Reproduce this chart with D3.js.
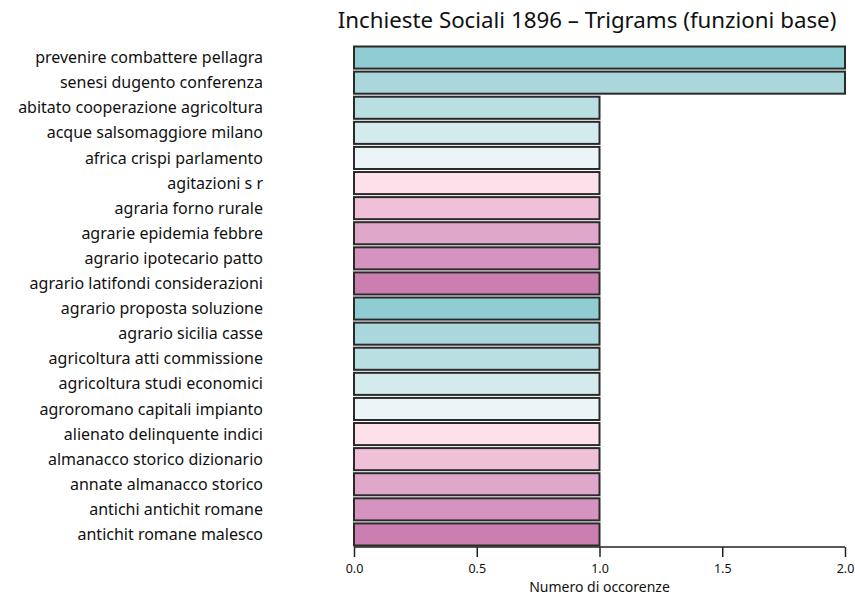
<!DOCTYPE html>
<html>
<head>
<meta charset="utf-8">
<script src="https://cdn.jsdelivr.net/npm/d3@7"></script>
<style>
  body { margin: 0; background: #fff; }
  text { font-family: "Noto Sans", "Open Sans", sans-serif; fill: #111; }
</style>
</head>
<body>
<svg id="chart" width="855" height="597"></svg>
<script>
// trigrams and how many times each one occurs
const trigrams = [
    "prevenire combattere pellagra",
    "senesi dugento conferenza",
    "abitato cooperazione agricoltura",
    "acque salsomaggiore milano",
    "africa crispi parlamento",
    "agitazioni s r",
    "agraria forno rurale",
    "agrarie epidemia febbre",
    "agrario ipotecario patto",
    "agrario latifondi considerazioni",
    "agrario proposta soluzione",
    "agrario sicilia casse",
    "agricoltura atti commissione",
    "agricoltura studi economici",
    "agroromano capitali impianto",
    "alienato delinquente indici",
    "almanacco storico dizionario",
    "annate almanacco storico",
    "antichi antichit romane",
    "antichit romane malesco"
];
const counts = [2, 2, 1, 1, 1, 1, 1, 1, 1, 1, 1, 1, 1, 1, 1, 1, 1, 1, 1, 1];
const palette = ["#90cdd2", "#a9d7dc", "#badfe3", "#d4ebee", "#ebf4f6",
                 "#fde0ea", "#efc0d7", "#dfa7c9", "#d593c0", "#cb7fb0"];
const xTicks = [0, 0.5, 1, 1.5, 2];

let svg = d3.select("#chart");
let margin = {left: 354, top: 45, right: 10, bottom: 50};
let width = 845 - margin.left;
let height = 547 - margin.top;

let x = d3.scaleLinear().domain([0, 2]).range([0, width]);
let y = d3.scaleBand().domain(trigrams).range([0, height])
    .paddingInner(0.12).paddingOuter(0.06);

let g = svg.append("g").attr("transform", `translate(${margin.left}, ${margin.top})`);

// title
svg.append("text")
    .attr("x", 587)
    .attr("y", 28)
    .attr("text-anchor", "middle")
    .style("font-size", "22.3px")
    .text("Inchieste Sociali 1896 \u2013 Trigrams (funzioni base)");

// bars
g.selectAll(".bar")
    .data(trigrams)
    .enter()
    .append("rect")
    .attr("class", "bar")
    .attr("x", x(0))
    .attr("y", (d) => y(d))
    .attr("width", (d, i) => x(counts[i]) - x(0))
    .attr("height", y.bandwidth())
    .attr("fill", (d, i) => palette[i % palette.length])
    .attr("stroke", "#2a2a2a")
    .attr("stroke-width", 2);

// row labels
g.selectAll(".label")
    .data(trigrams)
    .enter()
    .append("text")
    .attr("class", "label")
    .attr("x", -91)
    .attr("y", (d) => y(d) + y.bandwidth() / 2)
    .attr("dy", "0.35em")
    .attr("text-anchor", "end")
    .style("font-size", "16px")
    .text((d) => d);

// x axis
let axis = g.append("g")
    .attr("transform", `translate(0, ${height})`)
    .call(d3.axisBottom(x).tickValues(xTicks).tickFormat(d3.format(".1f")).tickSize(10).tickPadding(7));
axis.select(".domain").attr("stroke", "#222").attr("stroke-width", 1.5)
    .attr("d", `M${x(0)},0H${x(2)}`);
axis.selectAll(".tick line").attr("stroke", "#222").attr("stroke-width", 1.5);
axis.selectAll(".tick text")
    .style("font-family", "\"Noto Sans\", sans-serif")
    .style("font-size", "12.5px")
    .attr("fill", "#222");

g.append("text")
    .attr("x", x(1))
    .attr("y", height + 45)
    .attr("text-anchor", "middle")
    .style("font-size", "14px")
    .text("Numero di occorenze");
</script>
</body>
</html>
